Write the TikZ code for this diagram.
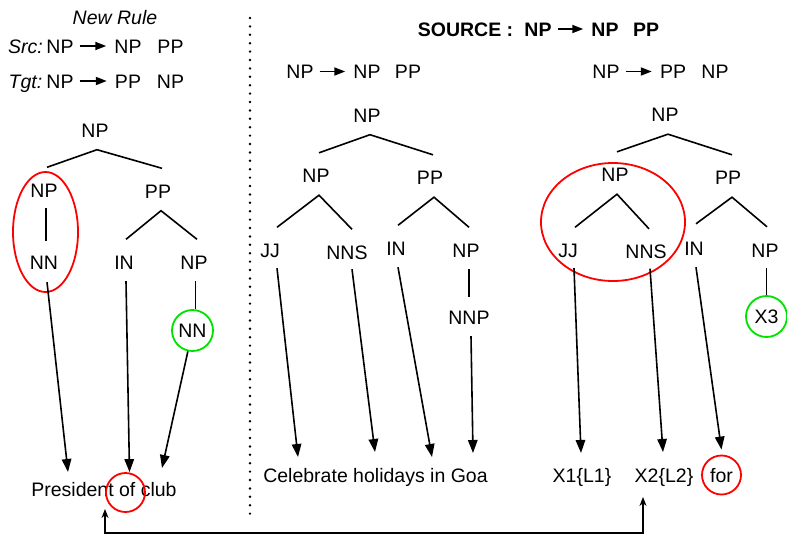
\documentclass[tikz,border=0pt]{standalone}
\usepackage{fontspec}
\setmainfont{Liberation Sans}
\usetikzlibrary{arrows.meta}
\definecolor{cred}{RGB}{255,0,0}
\definecolor{cgreen}{RGB}{0,225,0}
\begin{document}
\begin{tikzpicture}[x=1pt,y=-1pt,
 every node/.style={font=\fontsize{19.5}{23}\selectfont, inner sep=4pt, text height=14pt, text depth=0pt},
 tedge/.style={line width=1.6pt},
 harrow/.style={line width=1.6pt, -{Triangle[length=13pt,width=9.5pt]}},
 rarrow/.style={line width=1.8pt, -{Triangle[length=11pt,width=8pt]}, shorten <=2pt, shorten >=4pt},
 gcirc/.style={draw=cgreen, line width=1.8pt, circle, minimum size=41pt, inner sep=0pt},
 rcirc/.style={draw=cred, line width=1.8pt, circle, minimum size=39pt, inner sep=0pt},
 rell/.style={draw=cred, line width=1.8pt},
 bconn/.style={line width=1.4pt, {Stealth[length=9pt,width=7pt]}-{Stealth[length=9pt,width=7pt]}},
 dots/.style={line width=2.7pt, line cap=round, dash pattern=on 0pt off 8.4pt, black}
]
\useasboundingbox (0,0) rectangle (787,536);

% ---------- rules ----------
\node (nr) at (115,17.5) {\itshape New Rule};
\node (srcL) at (25.5,46) {\itshape Src:};
\node (s1) at (60,46) {NP}; \node (s2) at (128,46) {NP}; \node (s3) at (170.5,46) {PP};
\draw[rarrow] (s1) -- (s2);
\node (tgtL) at (25.5,81) {\itshape Tgt:};
\node (g1) at (60,81) {NP}; \node (g2) at (128,81) {PP}; \node (g3) at (170.5,81) {NP};
\draw[rarrow] (g1) -- (g2);

\node (srcT) at (465.5,29) {\bfseries SOURCE :};
\node (b1) at (538,29) {\bfseries NP}; \node (b2) at (605,29) {\bfseries NP}; \node (b3) at (646,29) {\bfseries PP};
\draw[rarrow] (b1) -- (b2);

\node (m1) at (300,71.5) {NP}; \node (m2) at (367,71.5) {NP}; \node (m3) at (408,71.5) {PP};
\draw[rarrow] (m1) -- (m2);
\node (n1) at (606,71.5) {NP}; \node (n2) at (673,71.5) {PP}; \node (n3) at (715,71.5) {NP};
\draw[rarrow] (n1) -- (n2);

% ---------- divider ----------
\draw[dots] (250,18) -- (250,520);

% ---------- left tree ----------
\node (lR) at (95,130) {NP};
\node (lA) at (44,190) {NP};
\node (lB) at (158,191) {PP};
\node (lA1) at (44,262) {NN};
\node (lB1) at (124,262) {IN};
\node (lB2) at (194,262) {NP};
\node[gcirc] (lB3) at (192.5,330.5) {NN};
\draw[tedge] ([xshift=3pt,yshift=11.5pt]lA.north) -- ([xshift=2pt,yshift=-8.5pt]lR.south) -- ([xshift=4pt,yshift=11.5pt]lB.north);
\draw[tedge] ([xshift=2pt,yshift=-7pt]lA.south) -- ([xshift=2pt,yshift=10pt]lA1.north);
\draw[tedge] ([xshift=2pt,yshift=11.5pt]lB1.north) -- ([xshift=3pt,yshift=-8.5pt]lB.south) -- ([xshift=3pt,yshift=11.5pt]lB2.north);
\draw[tedge] ([xshift=1.5pt,yshift=-8pt]lB2.south) -- ([xshift=3pt]lB3.north);
\draw[rell] (45.5,232) ellipse [x radius=32.5, y radius=60];

\node (lS) at (104,489.5) {President of club};
\node[rcirc] (lOf) at (125.5,492.5) {};
\coordinate (t1) at (68,472);
\coordinate (t3) at (162,468);
\draw[harrow] ([xshift=3pt,yshift=-9pt]lA1.south) -- (t1);
\draw[harrow] ([xshift=2pt,yshift=-8pt]lB1.south) -- ([xshift=4pt]lOf.north);
\draw[harrow] (lB3) -- (t3);

% ---------- middle tree ----------
\node (mR) at (367,115) {NP};
\node (mA) at (316,175.5) {NP};
\node (mB) at (430,177.5) {PP};
\node (mA1) at (270,250) {JJ};
\node (mA2) at (347,252) {NNS};
\node (mB1) at (396,248) {IN};
\node (mB2) at (466,250) {NP};
\node (mB3) at (469,317) {NNP};
\draw[tedge] ([xshift=3pt,yshift=11.5pt]mA.north) -- ([xshift=3pt,yshift=-8.5pt]mR.south) -- ([xshift=3pt,yshift=11.5pt]mB.north);
\draw[tedge] ([xshift=7pt,yshift=11.5pt]mA1.north) -- ([xshift=3pt,yshift=-8.5pt]mA.south) -- ([xshift=5pt,yshift=11.5pt]mA2.north);
\draw[tedge] ([xshift=2pt,yshift=11.5pt]mB1.north) -- ([xshift=4pt,yshift=-8.5pt]mB.south) -- ([xshift=3pt,yshift=11.5pt]mB2.north);
\draw[tedge] ([xshift=3pt,yshift=-8pt]mB2.south) -- ([xshift=0pt,yshift=9pt]mB3.north);

\node (mS) at (375.5,475) {Celebrate holidays in Goa};
\coordinate (t4) at (298,457);
\coordinate (t5) at (375,452);
\coordinate (t6) at (432,457);
\coordinate (t7) at (473,453);
\draw[harrow] ([xshift=7pt,yshift=-7pt]mA1.south) -- (t4);
\draw[harrow] ([xshift=5pt,yshift=-6pt]mA2.south) -- (t5);
\draw[harrow] ([xshift=2pt,yshift=-8pt]mB1.south) -- (t6);
\draw[harrow] ([xshift=2pt,yshift=-8pt]mB3.south) -- (t7);

% ---------- right tree ----------
\node (rR) at (665,114.5) {NP};
\node (rA) at (615,174.5) {NP};
\node (rB) at (728,177.5) {PP};
\node (rA1) at (568,250) {JJ};
\node (rA2) at (646,251.5) {NNS};
\node (rB1) at (694,248) {IN};
\node (rB2) at (765,250) {NP};
\node[gcirc] (rB3) at (766.5,316.5) {X3};
\draw[tedge] ([xshift=2pt,yshift=11.5pt]rA.north) -- ([xshift=3pt,yshift=-8.5pt]rR.south) -- ([xshift=4pt,yshift=11.5pt]rB.north);
\draw[tedge] ([xshift=7pt,yshift=11.5pt]rA1.north) -- ([xshift=2pt,yshift=-8.5pt]rA.south) -- ([xshift=3pt,yshift=11.5pt]rA2.north);
\draw[tedge] ([xshift=2pt,yshift=13pt]rB1.north) -- ([xshift=4pt,yshift=-8.5pt]rB.south) -- ([xshift=2pt,yshift=12pt]rB2.north);
\draw[tedge] ([xshift=1.5pt,yshift=-7pt]rB2.south) -- (rB3.north);
\draw[rell] (613,222) ellipse [x radius=72, y radius=59];

\node (x1) at (582,475) {X1\{L1\}};
\node (x2) at (664,475) {X2\{L2\}};
\node[rcirc] (for) at (721.5,475) {for};
\coordinate (t8) at (581,453);
\coordinate (t9) at (663,452);
\draw[harrow] ([xshift=6pt,yshift=-7pt]rA1.south) -- (t8);
\draw[harrow] ([xshift=4pt,yshift=-6pt]rA2.south) -- (t9);
\draw[harrow] ([xshift=2pt,yshift=-8pt]rB1.south) -- ([yshift=5pt]for.north);

% ---------- bottom connector ----------
\coordinate (bL) at (105,509);
\coordinate (bR) at (643,497);
\draw[bconn] (bL) -- (105,533) -| (bR);
\end{tikzpicture}
\end{document}
